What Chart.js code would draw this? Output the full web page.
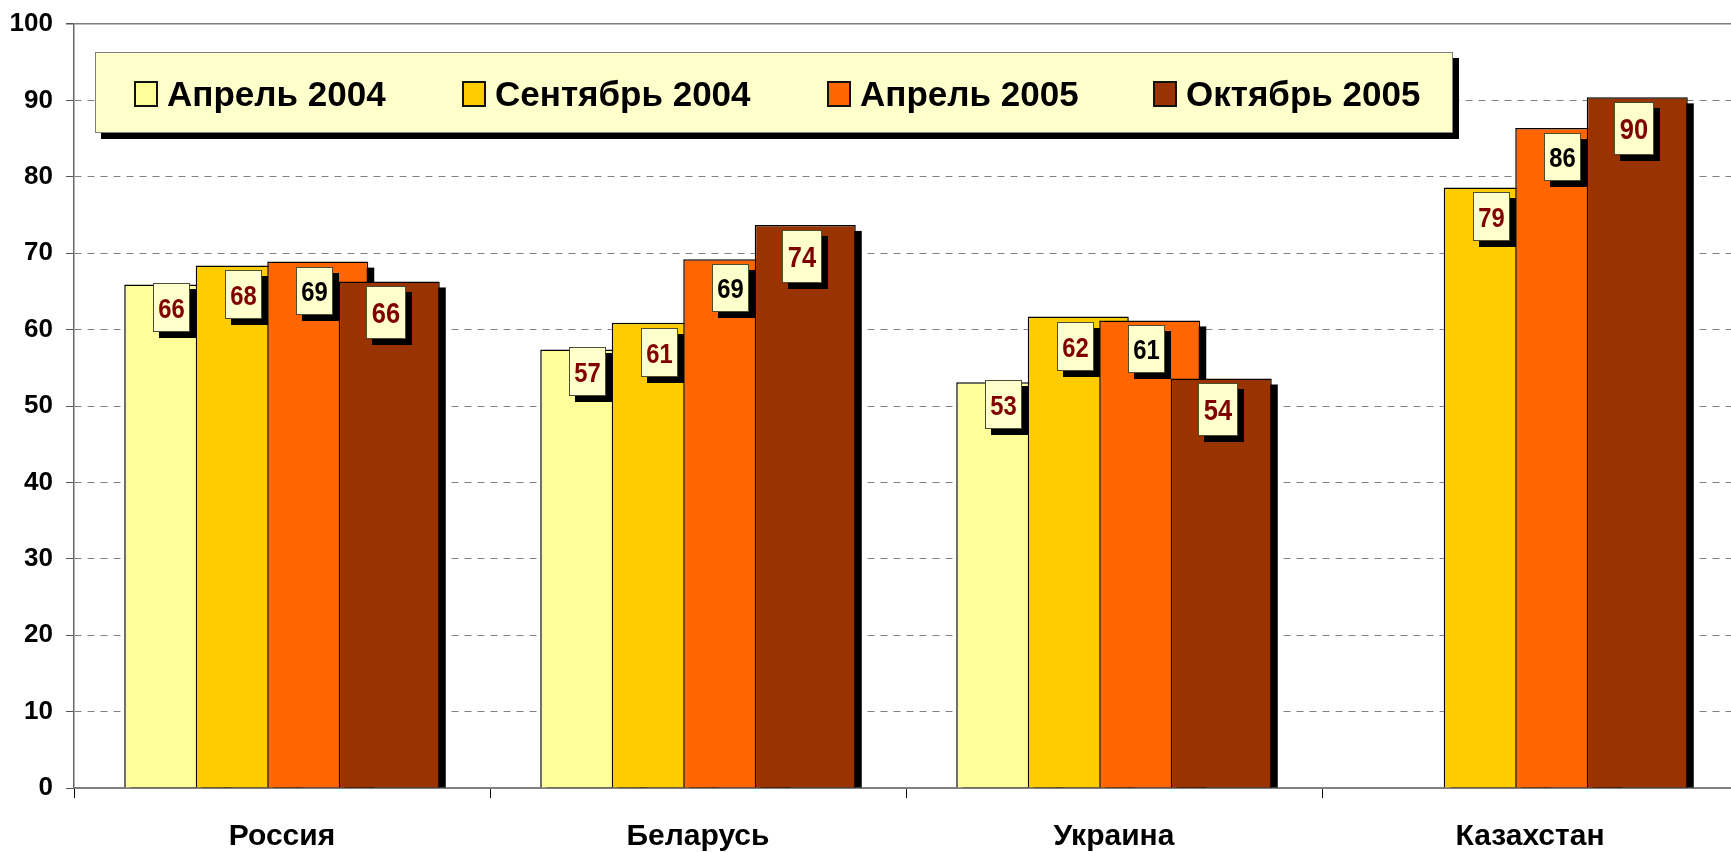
<!DOCTYPE html>
<html lang="ru">
<head>
<meta charset="utf-8">
<title>Россия, Беларусь, Украина, Казахстан</title>
<script src="https://cdn.jsdelivr.net/npm/chart.js@4/dist/chart.umd.min.js"></script>
<style>
    html, body { margin: 0; padding: 0; background: #fff; overflow: hidden; }
    #wrap { position: relative; width: 1731px; height: 852px; overflow: hidden; }
    #chart { position: absolute; left: 0; top: 0; }
    #legend {
        position: absolute; left: 95px; top: 52px; width: 1356px; height: 79px;
        background: #FFFFCC; border: 1px solid #7f7f7f; box-shadow: 6px 6px 0 #000;
        font: bold 35px "Liberation Sans", Arial, sans-serif; color: #000;
    }
    .legend-item { position: absolute; top: 0; height: 81px; display: flex; align-items: center; white-space: nowrap; }
    .legend-swatch { box-sizing: border-box; width: 24px; height: 26px; border: 2px solid #111; margin-right: 9px; }
</style>
</head>
<body>
<div id="wrap">
    <canvas id="chart" width="1740" height="852"></canvas>
    <div id="legend"></div>
</div>
<script>
// Chart data
const categories = ['Россия', 'Беларусь', 'Украина', 'Казахстан'];
const seriesLabels = ['Апрель 2004', 'Сентябрь 2004', 'Апрель 2005', 'Октябрь 2005'];
const april2004 = [65.9, 57.4, 53.1, null];
const september2004 = [68.4, 60.9, 61.7, 78.6];
const april2005 = [68.9, 69.2, 61.2, 86.4];
const october2005 = [66.3, 73.7, 53.6, 90.4];
const yMin = 0;
const yMax = 100;
const yStep = 10;

// Styles
const FONT = '"Liberation Sans", Arial, sans-serif';
const seriesColors = ['#FFFF99', '#FFCC00', '#FF6600', '#993300'];
const labelTextColors = ['#800000', '#800000', '#000000', '#800000'];
const labelBoxWidth = [37, 37, 37, 40];
const labelBoxHeight = [49, 49, 48, 53];
const labelFontSize = [28, 28, 28, 30];
const labelTopOffset = [-2, 5, 5, 5];
const legendLeft = [38, 366, 731, 1057];
const SHADOW = 6;

document.addEventListener('DOMContentLoaded', function() {
    buildLegend();
    createChart();
});

// HTML legend box (sits inside the plot like the original)
function buildLegend() {
    const legend = document.getElementById('legend');
    legend.innerHTML = seriesLabels.map((label, i) => `
        <div class="legend-item" style="left:${legendLeft[i]}px">
            <span class="legend-swatch" style="background:${seriesColors[i]}"></span>${label}
        </div>
    `).join('');
}

// Draw bars in forward order (later series on top) with drop shadows, then value boxes
const barLayerPlugin = {
    id: 'barLayer',
    beforeDatasetsDraw(chart) {
        const c = chart.ctx;
        const metas = chart.getSortedVisibleDatasetMetas();
        metas.forEach(meta => {
            const values = chart.data.datasets[meta.index].data;
            c.save();
            c.fillStyle = '#000';
            meta.data.forEach((bar, j) => {
                if (values[j] == null) return;
                const p = bar.getProps(['x', 'y', 'width', 'base'], true);
                c.fillRect(p.x - p.width / 2 + SHADOW, p.y + SHADOW, p.width, p.base - p.y - SHADOW);
            });
            c.restore();
            meta.controller.draw();
        });
        drawValueLabels(chart, metas);
        return false;
    }
};

function drawValueLabels(chart, metas) {
    const c = chart.ctx;
    metas.forEach(meta => {
        const i = meta.index;
        const values = chart.data.datasets[i].data;
        meta.data.forEach((bar, j) => {
            if (values[j] == null) return;
            const p = bar.getProps(['x', 'y'], true);
            const w = labelBoxWidth[i];
            const h = labelBoxHeight[i];
            const x = Math.round(p.x - 3 - w / 2);
            const y = Math.round(p.y + labelTopOffset[i]);
            c.save();
            c.fillStyle = '#000';
            c.fillRect(x + SHADOW, y + SHADOW, w, h);
            c.fillStyle = '#FFFFCC';
            c.fillRect(x, y, w, h);
            c.strokeStyle = '#4d4d33';
            c.lineWidth = 1;
            c.strokeRect(x + 0.5, y + 0.5, w - 1, h - 1);
            const size = labelFontSize[i];
            c.translate(x + w / 2, y + h / 2 + size * 0.716 / 2);
            c.scale(0.85, 1);
            c.font = `bold ${size}px ${FONT}`;
            c.fillStyle = labelTextColors[i];
            c.textAlign = 'center';
            c.textBaseline = 'alphabetic';
            c.fillText(String(Math.round(values[j])), 0, 0);
            c.restore();
        });
    });
}

function createChart() {
    const ctx = document.getElementById('chart').getContext('2d');
    const seriesValues = [april2004, september2004, april2005, october2005];

    new Chart(ctx, {
        type: 'bar',
        data: {
            labels: categories,
            datasets: seriesValues.map((values, i) => ({
                label: seriesLabels[i],
                data: values,
                backgroundColor: seriesColors[i],
                borderColor: '#000',
                borderWidth: 1.5,
                categoryPercentage: 0.6875,
                barPercentage: 1.413
            }))
        },
        options: {
            responsive: false,
            animation: false,
            devicePixelRatio: 1,
            layout: {
                padding: { top: 24, right: 2, left: 0, bottom: 0 }
            },
            plugins: {
                legend: { display: false },
                tooltip: { enabled: false }
            },
            scales: {
                x: {
                    grid: {
                        offset: true,
                        drawOnChartArea: false,
                        drawTicks: true,
                        tickLength: 10,
                        tickColor: '#000',
                        tickWidth: 1
                    },
                    border: { color: '#808080', width: 2 },
                    ticks: {
                        color: '#000',
                        padding: 21,
                        font: { family: FONT, size: 30, weight: 'bold' }
                    },
                    afterFit: scale => { scale.height = 64; }
                },
                y: {
                    min: yMin,
                    max: yMax,
                    ticks: {
                        stepSize: yStep,
                        color: '#000',
                        padding: 13,
                        font: { family: FONT, size: 26, weight: 'bold' }
                    },
                    grid: {
                        color: c => (c.tick && c.tick.value === yMin) ? 'rgba(0,0,0,0)' : '#808080',
                        lineWidth: c => (c.tick && c.tick.value === yMax) ? 1.5 : 1,
                        tickLength: 8,
                        tickColor: '#555',
                        tickBorderDash: []
                    },
                    border: {
                        color: '#666',
                        width: 1.5,
                        dash: c => (c.tick && c.tick.value === yMax) ? [] : [7, 6]
                    },
                    afterFit: scale => {
                        scale.width = 74;
                        scale.paddingTop = 0;
                        scale.paddingBottom = 0;
                    }
                }
            }
        },
        plugins: [barLayerPlugin]
    });
}
</script>
</body>
</html>
